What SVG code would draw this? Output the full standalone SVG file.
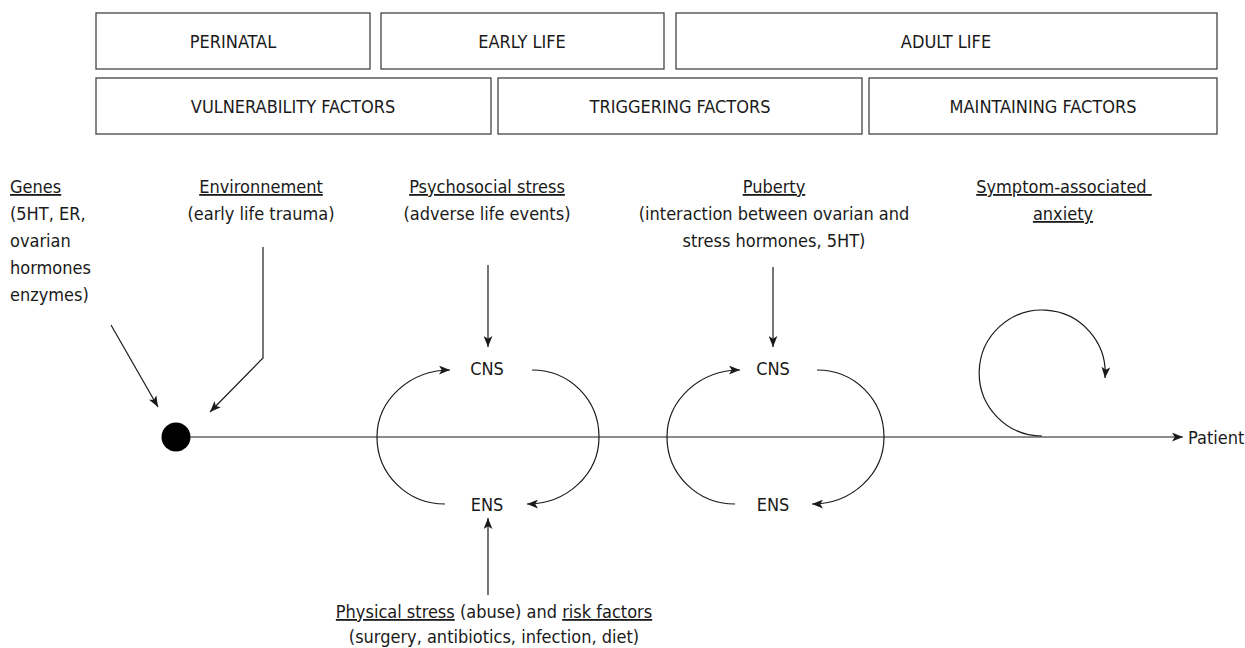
<svg xmlns="http://www.w3.org/2000/svg" width="1245" height="648" viewBox="0 0 1245 648">
<style>
text{font-family:"DejaVu Sans Condensed","DejaVu Sans",sans-serif;font-size:18px;fill:#1a1a1a}
.c{text-anchor:middle}
.u{text-decoration:underline}
.box{fill:#fff;stroke:#444;stroke-width:1.3}
.ln{fill:none;stroke:#1a1a1a;stroke-width:1.2}
</style>
<defs>
<marker id="ah" viewBox="0 0 10 8" refX="10" refY="4" markerWidth="11" markerHeight="9" markerUnits="userSpaceOnUse" orient="auto">
<path d="M0,0 L10,4 L0,8 L2.5,4 z" fill="#1a1a1a"/>
</marker>
</defs>
<rect width="1245" height="648" fill="#fff"/>
<g id="periods">
<g id="perinatal"><rect class="box" x="96" y="13" width="274" height="56"/><text class="c" x="233" y="48">PERINATAL</text></g>
<g id="early-life"><rect class="box" x="381" y="13" width="283" height="56"/><text class="c" x="522" y="48">EARLY LIFE</text></g>
<g id="adult-life"><rect class="box" x="676" y="13" width="541" height="56"/><text class="c" x="946" y="48">ADULT LIFE</text></g>
</g>
<g id="factors">
<g id="vulnerability"><rect class="box" x="96" y="78" width="395" height="56"/><text class="c" x="293" y="113">VULNERABILITY FACTORS</text></g>
<g id="triggering"><rect class="box" x="498" y="78" width="364" height="56"/><text class="c" x="680" y="113">TRIGGERING FACTORS</text></g>
<g id="maintaining"><rect class="box" x="869" y="78" width="348" height="56"/><text class="c" x="1043" y="113">MAINTAINING FACTORS</text></g>
</g>
<g id="genes">
<text x="10" y="193" class="u">Genes</text>
<text x="10" y="220">(5HT, ER,</text>
<text x="10" y="247">ovarian</text>
<text x="10" y="274">hormones</text>
<text x="10" y="301">enzymes)</text>
</g>
<g id="environnement">
<text class="c u" x="261" y="193">Environnement</text>
<text class="c" x="261" y="220">(early life trauma)</text>
</g>
<g id="psychosocial">
<text class="c u" x="487" y="193">Psychosocial stress</text>
<text class="c" x="487" y="220">(adverse life events)</text>
</g>
<g id="puberty">
<text class="c u" x="774" y="193">Puberty</text>
<text class="c" x="774" y="220">(interaction between ovarian and</text>
<text class="c" x="774" y="247">stress hormones, 5HT)</text>
</g>
<g id="anxiety">
<text class="c u" x="1064" y="193" xml:space="preserve">Symptom-associated </text>
<text class="c u" x="1063" y="220">anxiety</text>
</g>
<g id="start-node"><circle cx="176" cy="437" r="14.5" fill="#000"/></g>
<g id="cns1"><text class="c" x="487" y="375">CNS</text></g>
<g id="ens1"><text class="c" x="487" y="511">ENS</text></g>
<g id="cns2"><text class="c" x="773" y="375">CNS</text></g>
<g id="ens2"><text class="c" x="773" y="511">ENS</text></g>
<g id="physical">
<text class="c" x="494" y="618"><tspan class="u">Physical stress</tspan> (abuse) and <tspan class="u">risk factors</tspan></text>
<text class="c" x="494" y="643">(surgery, antibiotics, infection, diet)</text>
</g>
<g id="patient"><text x="1188" y="444">Patient</text></g>
<g id="connectors">
<path class="ln" d="M190,437 H1183" marker-end="url(#ah)"/>
<path class="ln" d="M111,325 L158,407" marker-end="url(#ah)"/>
<path class="ln" d="M263,247 V358 L210,412" marker-end="url(#ah)"/>
<path class="ln" d="M488,265 V347" marker-end="url(#ah)"/>
<path class="ln" d="M773,267 V347" marker-end="url(#ah)"/>
<path class="ln" d="M488,595 V518" marker-end="url(#ah)"/>
<path class="ln" d="M445,504 C407,504 377,474 377,437 C377,400 410,370 450,370" marker-end="url(#ah)"/>
<path class="ln" d="M532,370 C570,370 599,400 599,437 C599,474 567,504 527,504" marker-end="url(#ah)"/>
<path class="ln" d="M735,504 C697,504 667,474 667,437 C667,400 700,370 740,370" marker-end="url(#ah)"/>
<path class="ln" d="M817,370 C855,370 884,400 884,437 C884,474 852,504 812,504" marker-end="url(#ah)"/>
<path class="ln" d="M1042,436 A63,63 0 1 1 1105,378" marker-end="url(#ah)"/>
</g>
</svg>
